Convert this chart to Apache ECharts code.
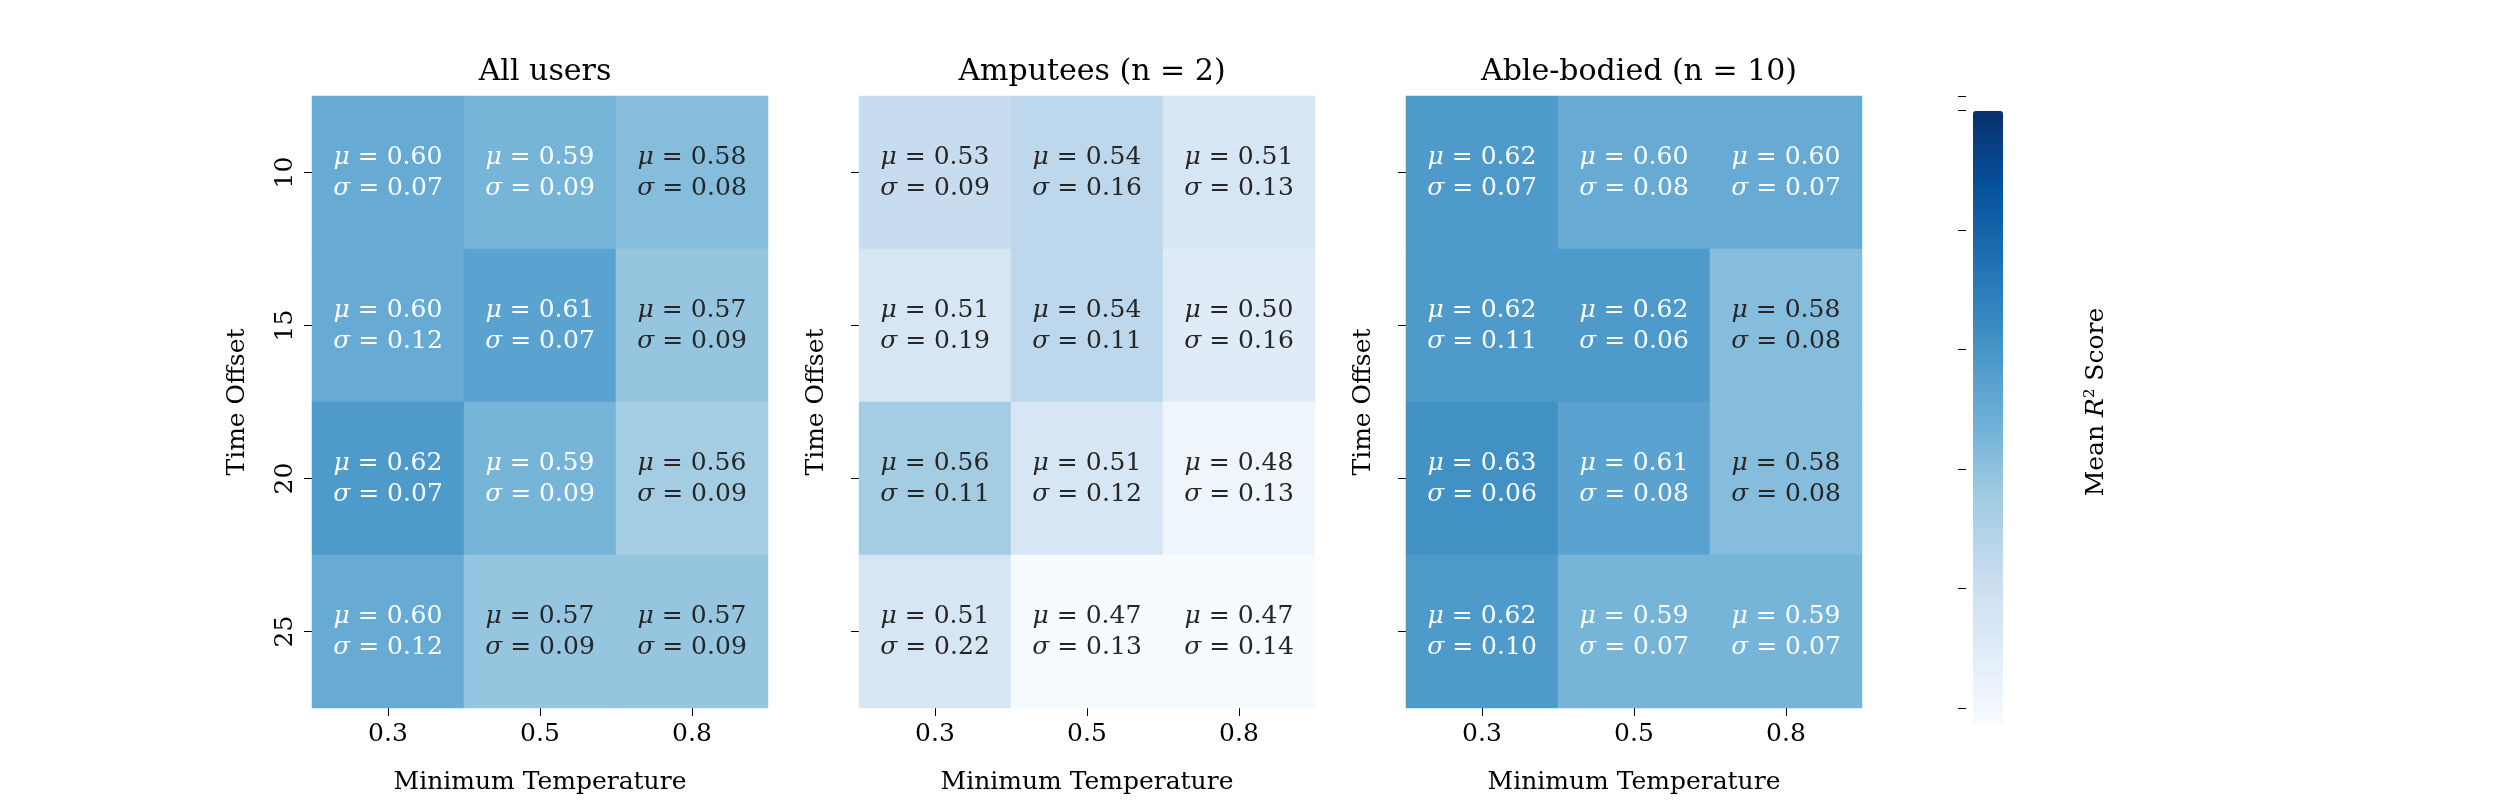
<!DOCTYPE html>
<html><head><meta charset="utf-8">
<script src="https://cdn.jsdelivr.net/npm/echarts@6/dist/echarts.min.js"></script>
<style>html,body{margin:0;padding:0;background:#fff}#c{width:2500px;height:800px}</style>
</head><body><div id="c"></div>
<script>
const xCats = ['0.3','0.5','0.8'];
const yCats = ['10','15','20','25'];
const titles = ['All users','Amputees (n = 2)','Able-bodied (n = 10)'];
const muAll = [[0.60,0.59,0.58],[0.60,0.61,0.57],[0.62,0.59,0.56],[0.60,0.57,0.57]];
const sdAll = [[0.07,0.09,0.08],[0.12,0.07,0.09],[0.07,0.09,0.09],[0.12,0.09,0.09]];
const muAmp = [[0.53,0.54,0.51],[0.51,0.54,0.50],[0.56,0.51,0.48],[0.51,0.47,0.47]];
const sdAmp = [[0.09,0.16,0.13],[0.19,0.11,0.16],[0.11,0.12,0.13],[0.22,0.13,0.14]];
const muAble = [[0.62,0.60,0.60],[0.62,0.62,0.58],[0.63,0.61,0.58],[0.62,0.59,0.59]];
const sdAble = [[0.07,0.08,0.07],[0.11,0.06,0.08],[0.06,0.08,0.08],[0.10,0.07,0.07]];
const cbTicks = [0.50,0.55,0.60,0.65,0.70];
const vmin = 0.469, vmax = 0.725;

const mus=[muAll,muAmp,muAble], sds=[sdAll,sdAmp,sdAble];
const lefts=[312,859,1406], W=456, T=96, H=615;
const F='DejaVu Serif';
const grids=[],xAxes=[],yAxes=[],series=[],titleArr=[];
for(let p=0;p<3;p++){
  grids.push({left:lefts[p],top:T,width:W,height:H});
  titleArr.push({text:titles[p],left:lefts[p]+W/2,top:52,textAlign:'center',textStyle:{fontFamily:F,fontSize:30,fontWeight:'normal',color:'#000'}});
  xAxes.push({type:'category',gridIndex:p,data:xCats,name:'Minimum Temperature',nameLocation:'middle',nameGap:62,
    nameTextStyle:{fontFamily:F,fontSize:25,color:'#000'},axisLine:{show:false},splitLine:{show:false},
    axisTick:{show:true,alignWithLabel:true,length:8,lineStyle:{color:'#000'}},
    axisLabel:{fontFamily:F,fontSize:25,color:'#000',margin:14}});
  yAxes.push({type:'category',gridIndex:p,data:yCats,inverse:true,name:'Time Offset',nameLocation:'middle',nameGap:p==0?62:30,
    nameTextStyle:{fontFamily:F,fontSize:25,color:'#000'},axisLine:{show:false},splitLine:{show:false},
    axisTick:{show:true,alignWithLabel:true,length:8,lineStyle:{color:'#000'}},
    axisLabel:{show:p==0,fontFamily:F,fontSize:25,color:'#000',rotate:90,margin:14}});
  const data=[];
  for(let r=0;r<4;r++)for(let c=0;c<3;c++)data.push([c,r,mus[p][r][c],sds[p][r][c]]);
  series.push({type:'heatmap',xAxisIndex:p,yAxisIndex:p,data:data,
    label:{show:true,formatter:d=>'{i|μ} = '+d.value[2].toFixed(2)+'\n{i|σ} = '+d.value[3].toFixed(2),
      fontFamily:F,fontSize:25,lineHeight:31,
      rich:{i:{fontStyle:'italic',fontFamily:F,fontSize:25}}},
    labelLayout:null});
}
// colorbar ticks axis
grids.push({left:1958,top:96,width:30,height:612});
xAxes.push({type:'value',gridIndex:3,show:false});
yAxes.push({type:'value',gridIndex:3,min:vmin,max:vmax,position:'right',
  axisLine:{show:false},splitLine:{show:false},axisTick:{show:true,length:8,lineStyle:{color:'#000'}},
  axisLabel:{fontFamily:F,fontSize:25,color:'#000',margin:14,formatter:v=>cbTicks.some(t=>Math.abs(t-v)<1e-6)?v.toFixed(2):''},
  interval:0.05,
  name:'{n|Mean }{i|R}{s|2}{n| Score}',nameLocation:'middle',nameGap:95,nameRotate:90,
  nameTextStyle:{rich:{n:{fontFamily:F,fontSize:25,color:'#000'},i:{fontFamily:F,fontSize:25,fontStyle:'italic',color:'#000'},s:{fontFamily:F,fontSize:15,color:'#000',verticalAlign:'top',padding:[0,0,12,0]}}}});
const chart=echarts.init(document.getElementById('c'));
chart.setOption({
  animation:false,
  title:titleArr,grid:grids,xAxis:xAxes,yAxis:yAxes,series:series,
  visualMap:{type:'continuous',min:vmin,max:vmax,seriesIndex:[0,1,2],dimension:2,left:1958,top:96,itemWidth:30,itemHeight:612,
    calculable:false,text:['',''],showLabel:false,hoverLink:false,
    inRange:{color:['#f7fbff','#deebf7','#c6dbef','#9ecae1','#6baed6','#4292c6','#2171b5','#08519c','#08306b']}}
});
// label colours by value
const opt=chart.getOption();
series.forEach(s=>{s.data=s.data.map(d=>({value:d,label:{color:d[2]>=0.585?'#fff':'#262626'}}));});
chart.setOption({series:series});
</script></body></html>
